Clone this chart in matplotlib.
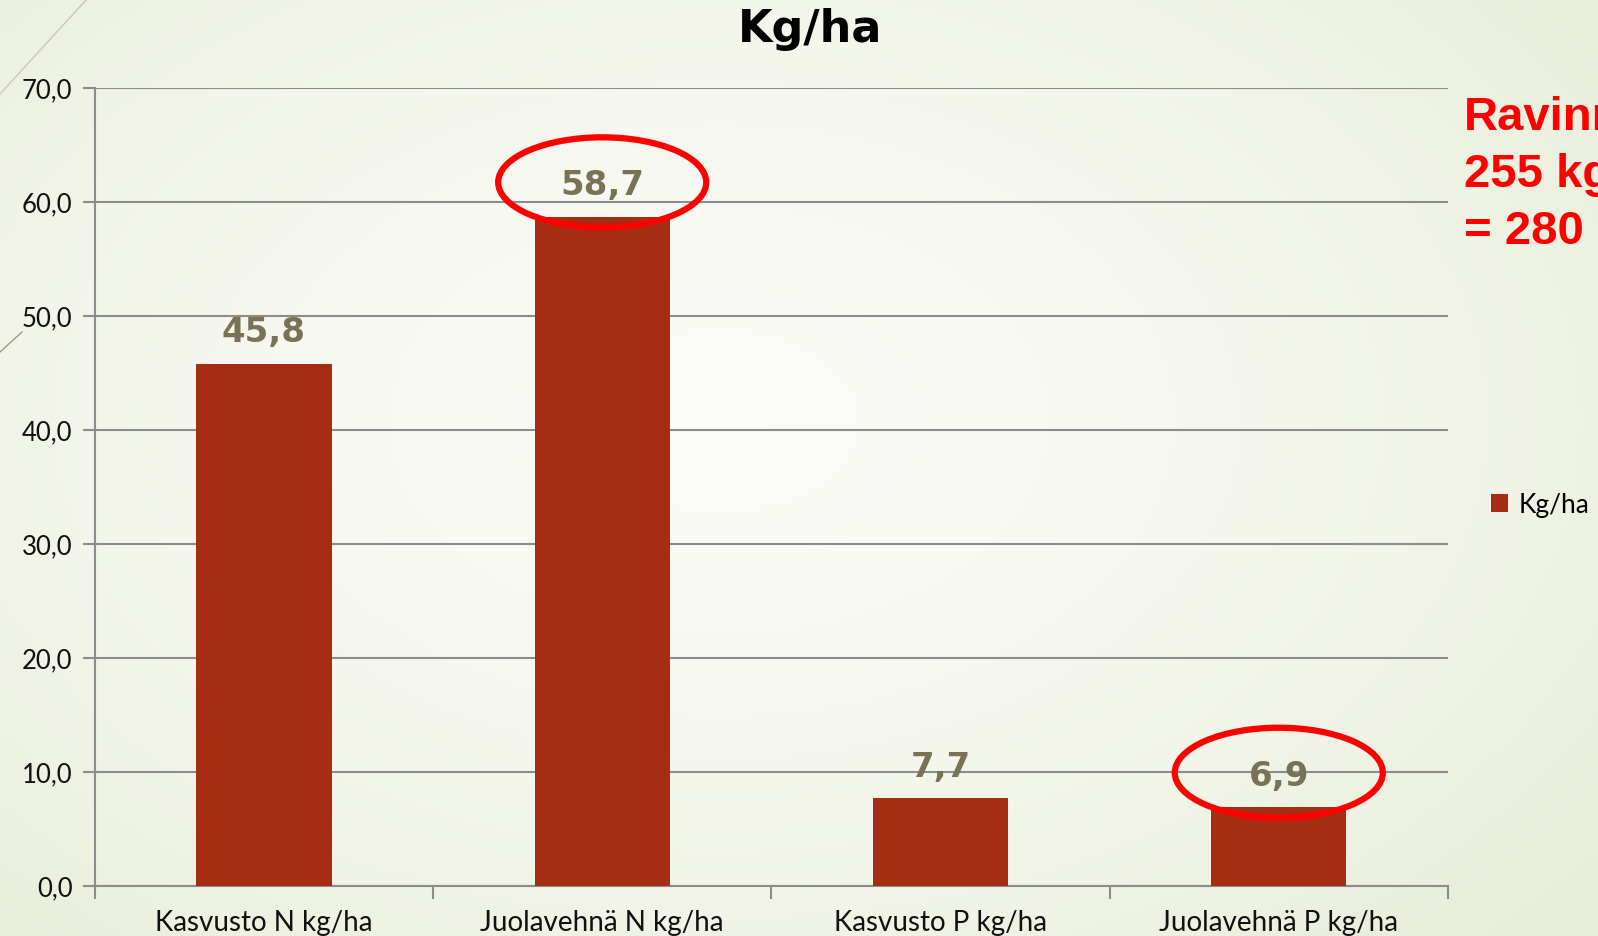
import numpy as np
import matplotlib.pyplot as plt
from matplotlib.patches import Ellipse
from matplotlib.lines import Line2D

# Data
categories = ['Kasvusto N kg/ha', 'Juolavehnä N kg/ha', 'Kasvusto P kg/ha', 'Juolavehnä P kg/ha']
values = [45.8, 58.7, 7.7, 6.9]
value_labels = ['45,8', '58,7', '7,7', '6,9']
yticks = [0, 10, 20, 30, 40, 50, 60, 70]
ytick_labels = ['0,0', '10,0', '20,0', '30,0', '40,0', '50,0', '60,0', '70,0']
circled = [1, 3]
side_text = ['Ravinn', '255 kg', '= 280']

bar_color = '#A52D11'
label_color = '#7A7257'
grid_color = '#8C8C8C'

fig = plt.figure(figsize=(15.98, 9.37), dpi=100)

# background gradient
bg = fig.add_axes([0, 0, 1, 1], zorder=-10)
gx, gy = np.meshgrid(np.linspace(0, 1, 400), np.linspace(0, 1, 240))
r = np.sqrt(((gx - 0.45) / 0.72) ** 2 + ((gy - 0.55) / 0.8) ** 2)
r = np.clip(r, 0, 1)
c_in = np.array([0.985, 0.985, 0.97])
c_out = np.array([0.905, 0.93, 0.845])
img = c_in[None, None, :] * (1 - r[..., None] ** 1.5) + c_out[None, None, :] * (r[..., None] ** 1.5)
bg.imshow(img, extent=[0, 1, 0, 1], aspect='auto', origin='lower')
bg.set_axis_off()

# decorative corner lines
fig.add_artist(Line2D([0, 87 / 1598], [1 - 95 / 937, 1], color='#c9c9b4', lw=1))
fig.add_artist(Line2D([0, 22 / 1598], [1 - 353 / 937, 1 - 333 / 937], color='#a09a86', lw=1))

ax = fig.add_axes([0.0593, 0.0538, 0.8468, 0.8515])
ax.set_facecolor('none')
x = np.arange(len(categories))
bars = ax.bar(x, values, width=0.4, color=bar_color, zorder=3, label='Kg/ha')
ax.set_xlim(-0.5, len(categories) - 0.5)
ax.set_ylim(0, 70)

ax.set_yticks(yticks)
ax.set_yticklabels(ytick_labels, fontsize=18.5, family='Lato', color='#111111')
ax.set_xticks(x)
ax.set_xticklabels(categories, fontsize=20, family='Lato', color='#111111')
ax.tick_params(axis='x', length=0, pad=17)
ax.tick_params(axis='y', length=9, width=1.5, color=grid_color, pad=7)
ax.set_xticks(np.arange(-0.5, len(categories), 1), minor=True)
ax.tick_params(axis='x', which='minor', length=9, width=1.5, color=grid_color)

ax.yaxis.grid(True, color=grid_color, lw=1.5, zorder=1)
for s in ['top', 'right']:
    ax.spines[s].set_visible(False)
for s in ['left', 'bottom']:
    ax.spines[s].set_color(grid_color)
    ax.spines[s].set_linewidth(1.5)

for xi, v, lab in zip(x, values, value_labels):
    ax.annotate(lab, (xi, v), xytext=(0, 11), textcoords='offset points',
                ha='center', va='bottom', fontsize=24.5, fontweight='bold',
                color=label_color, family='DejaVu Sans', zorder=5)

for i in circled:
    ax.add_patch(Ellipse((x[i], values[i] + 3.0), 0.615, 7.9, fill=False,
                         edgecolor='#FF0000', lw=4.5, zorder=6, clip_on=False))

fig.text(0.507, 0.969, 'Kg/ha', ha='center', va='center', fontsize=32,
         fontweight='bold', family='DejaVu Sans')

for k, t in enumerate(side_text):
    fig.text(1464 / 1598, 1 - (118 + 57 * k) / 937, t, ha='left', va='center',
             fontsize=34, fontweight='bold', color='#FF0000', family='Liberation Sans')

# legend
ax.legend(handles=[bars], loc='center left', bbox_to_anchor=(1478 / 1598, 1 - 506 / 937),
          bbox_transform=fig.transFigure, frameon=False,
          handlelength=0.65, handleheight=0.65, handletextpad=0.4, borderpad=0,
          prop={'family': 'Lato', 'size': 19})

fig.savefig('out.png', dpi=100)
